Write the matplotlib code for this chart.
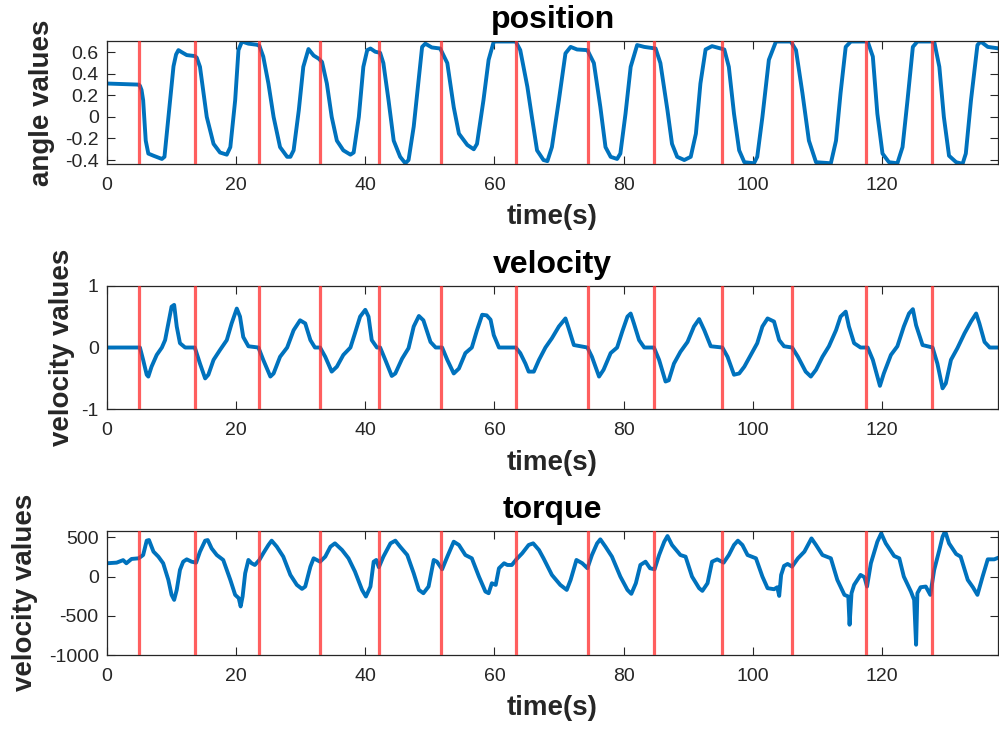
import matplotlib
matplotlib.use("Agg")
import matplotlib.pyplot as plt

plt.rcParams['font.family'] = ['Liberation Sans', 'DejaVu Sans']

# event markers (s)
events = [5.0, 13.67, 23.58, 33.02, 42.1, 51.75, 63.27, 74.46, 84.67, 95.25,
          106.15, 117.5, 127.75]

# joint angle
pos_t = [0, 4.9, 5.1, 5.35, 5.6, 6.0, 6.4, 7.2, 8.5, 8.9, 9.25, 10.3, 10.7, 11.06, 11.6, 12.35,
         13.6, 13.9, 14.4, 15.45, 16.5, 17.5, 18.55, 19.1, 19.85, 20.36, 20.9,
         21.9, 23.2, 23.6, 24.2, 25.0, 25.8, 26.8, 27.9, 28.4, 28.9, 29.7, 30.4,
         31.2, 32.0, 32.8, 33.3, 34.05, 34.8, 35.6, 36.6, 37.7, 38.2, 39.0, 39.7,
         40.3, 40.8, 41.55, 42.3, 42.8, 43.6, 44.4, 45.4, 46.2, 46.7, 47.5, 48.3,
         48.8, 49.3, 50.3, 51.6, 52.7, 53.7, 54.5, 55.8, 56.8, 57.3, 58.3, 59.1,
         59.9, 60.4, 63.3, 64.0, 65.1, 65.8, 66.6, 67.6, 68.2, 68.9, 69.98, 71.0,
         71.8, 72.8, 74.4, 75.4, 76.4, 77.2, 78.0, 79.0, 79.5, 80.3, 81.1, 82.1,
         83.2, 84.96, 85.7, 86.8, 87.5, 88.3, 89.4, 90.4, 91.2, 91.9, 92.7, 93.7,
         95.6, 96.3, 97.1, 97.9, 98.7, 100.2, 100.7, 101.5, 102.5, 103.6, 105.9,
         106.7, 107.7, 108.7, 109.8, 112.1, 112.9, 113.6, 114.4, 115.2, 117.8,
         118.6, 119.3, 120.1, 121.1, 122.4, 123.2, 123.97, 124.8, 125.5, 128.1,
         128.9, 129.6, 130.4, 131.5, 132.5, 133.0, 133.8, 134.8, 135.3, 136.4, 138.2]
pos_v = [0.31, 0.30, 0.29, 0.25, 0.155, -0.22, -0.34, -0.36, -0.39, -0.37, -0.16, 0.47,
         0.58, 0.62, 0.60, 0.574, 0.565, 0.55, 0.465, 0.0, -0.25, -0.33, -0.35, -0.28,
         0.155, 0.62, 0.70, 0.68, 0.67, 0.66, 0.56, 0.31, 0.0, -0.28, -0.37, -0.37,
         -0.31, 0.06, 0.465, 0.63, 0.57, 0.54, 0.51, 0.31, 0.0, -0.22, -0.31, -0.35,
         -0.33, 0.0, 0.465, 0.62, 0.635, 0.605, 0.595, 0.50, 0.155, -0.22, -0.37,
         -0.43, -0.40, -0.09, 0.37, 0.65, 0.68, 0.645, 0.635, 0.50, 0.09, -0.155,
         -0.26, -0.30, -0.25, 0.155, 0.53, 0.70, 0.70, 0.70, 0.62, 0.28, 0.0, -0.31,
         -0.40, -0.41, -0.28, 0.155, 0.59, 0.65, 0.626, 0.62, 0.50, 0.093, -0.28,
         -0.37, -0.39, -0.34, 0.03, 0.465, 0.667, 0.65, 0.635, 0.50, 0.06, -0.25,
         -0.37, -0.40, -0.37, -0.155, 0.31, 0.626, 0.657, 0.626, 0.465, 0.03, -0.31,
         -0.42, -0.43, -0.37, 0.0, 0.53, 0.70, 0.70, 0.62, 0.22, -0.22, -0.42, -0.43,
         -0.22, 0.22, 0.65, 0.70, 0.70, 0.56, 0.03, -0.34, -0.42, -0.43, -0.28,
         0.155, 0.65, 0.70, 0.70, 0.465, 0.0, -0.36, -0.42, -0.435, -0.34, 0.155,
         0.667, 0.70, 0.65, 0.635]

# angular velocity
vel_t = [0, 5.1, 5.6, 6.15, 6.4, 6.9, 7.7, 8.5, 9.0, 9.5, 10.0, 10.4, 10.8, 11.3,
         12.1, 13.6, 14.4, 15.2, 15.7, 16.5, 17.5, 18.55, 19.3, 20.1, 20.6, 21.1,
         21.9, 23.45, 24.2, 25.3, 25.8, 26.8, 27.9, 28.9, 29.9, 30.7, 31.5, 32.2,
         33.0, 33.8, 34.8, 35.6, 36.6, 37.7, 38.4, 39.2, 40.0, 40.5, 41.0, 41.8,
         42.3, 43.1, 44.1, 44.65, 45.7, 46.7, 47.5, 48.3, 49.0, 50.1, 50.9, 51.9,
         52.7, 53.7, 54.5, 55.5, 56.5, 57.3, 58.1, 58.8, 59.4, 59.9, 60.7, 63.3,
         64.0, 64.8, 65.3, 66.1, 66.9, 67.9, 68.9, 69.98, 71.0, 71.5, 72.3, 74.4,
         75.1, 76.2, 76.9, 78.0, 79.0, 79.8, 80.6, 81.1, 81.6, 82.4, 83.2, 84.7,
         85.5, 86.5, 87.0, 87.8, 88.8, 89.9, 90.9, 91.7, 92.5, 93.5, 95.3, 96.1,
         97.1, 97.9, 98.7, 99.7, 100.7, 101.5, 102.3, 103.3, 104.1, 104.85, 106.1,
         107.0, 108.2, 109.0, 109.8, 110.8, 111.8, 112.9, 113.6, 114.4, 114.9,
         115.7, 116.7, 117.8, 118.6, 119.3, 119.7, 120.3, 121.4, 122.4, 123.4,
         124.2, 124.8, 125.3, 126.3, 127.85, 128.6, 129.4, 129.9, 130.7, 131.7,
         132.8, 133.8, 134.6, 135.1, 135.9, 136.7, 138.2]
vel_v = [0.0, 0.0, -0.2, -0.44, -0.47, -0.31, -0.12, 0.0, 0.12, 0.39, 0.66, 0.69,
         0.34, 0.07, 0.0, 0.0, -0.26, -0.5, -0.44, -0.2, -0.04, 0.12, 0.39, 0.63,
         0.5, 0.17, 0.02, 0.0, -0.2, -0.47, -0.42, -0.15, 0.0, 0.28, 0.44, 0.39,
         0.12, 0.0, 0.0, -0.15, -0.39, -0.31, -0.12, 0.0, 0.23, 0.5, 0.61, 0.5,
         0.12, 0.0, 0.0, -0.2, -0.46, -0.42, -0.18, -0.01, 0.34, 0.51, 0.44, 0.09,
         0.0, 0.0, -0.2, -0.42, -0.34, -0.09, 0.0, 0.28, 0.53, 0.52, 0.45, 0.2, 0.0,
         0.0, -0.09, -0.26, -0.39, -0.39, -0.2, 0.0, 0.15, 0.34, 0.47, 0.31, 0.04,
         0.0, -0.15, -0.47, -0.36, -0.09, 0.0, 0.26, 0.5, 0.55, 0.39, 0.12, 0.0, 0.0,
         -0.2, -0.55, -0.53, -0.26, -0.07, 0.09, 0.34, 0.46, 0.28, 0.02, 0.0, -0.15,
         -0.44, -0.42, -0.31, -0.12, 0.07, 0.34, 0.47, 0.42, 0.12, 0.02, 0.0, -0.15,
         -0.39, -0.47, -0.36, -0.15, 0.02, 0.28, 0.5, 0.58, 0.34, 0.07, 0.0, 0.0,
         -0.2, -0.47, -0.62, -0.42, -0.12, 0.02, 0.34, 0.55, 0.62, 0.36, 0.04, 0.0,
         -0.26, -0.66, -0.58, -0.2, -0.01, 0.23, 0.42, 0.55, 0.39, 0.09, 0.0, 0.0]

# joint torque
trq_t = [0, 1.5, 2.5, 3.0, 3.8, 4.9, 5.6, 6.15, 6.5, 7.2, 7.96, 8.7, 9.5, 10.0,
         10.4, 10.8, 11.3, 11.8, 12.35, 13.1, 13.8, 14.4, 15.2, 15.6, 16.2, 17.0,
         18.0, 19.1, 19.85, 20.4, 20.7, 21.0, 21.4, 21.9, 22.4, 22.9, 23.6, 24.2,
         25.0, 25.5, 26.3, 27.3, 28.4, 29.4, 30.2, 30.7, 31.5, 32.0, 32.5, 33.0,
         33.8, 34.6, 35.3, 36.4, 37.4, 38.4, 39.5, 40.1, 40.8, 41.3, 41.7, 42.1,
         42.8, 43.9, 44.65, 45.4, 46.5, 47.5, 48.3, 49.0, 49.8, 50.6, 51.1, 51.9,
         52.7, 53.7, 54.5, 55.5, 56.5, 57.6, 58.6, 59.1, 59.6, 60.2, 60.7, 61.5,
         62.0, 62.7, 63.4, 64.3, 65.3, 66.0, 66.9, 67.6, 68.9, 70.2, 71.2, 71.8,
         72.7, 73.6, 74.4, 75.1, 75.9, 76.4, 77.2, 78.2, 79.5, 80.6, 81.2, 81.9,
         82.6, 83.4, 84.1, 84.8, 85.5, 86.3, 86.8, 87.5, 88.8, 89.6, 90.6, 91.7,
         92.2, 93.0, 93.7, 94.5, 95.5, 96.3, 97.1, 97.7, 98.4, 99.2, 100.5, 101.5,
         102.3, 103.3, 103.8, 104.1, 104.4, 104.85, 105.4, 106.1, 107.0, 108.0,
         109.1, 109.8, 110.8, 112.1, 113.1, 114.2, 114.8, 115.0, 115.3, 115.7,
         116.2, 116.7, 117.3, 117.7, 118.3, 119.3, 119.9, 120.6, 121.9, 122.7,
         123.4, 124.5, 125.0, 125.3, 125.5, 126.0, 126.8, 127.5, 128.1, 128.9,
         129.4, 129.8, 130.4, 131.5, 132.2, 133.3, 134.1, 134.8, 135.6, 136.4,
         137.4, 138.2]
trq_v = [170, 178, 210, 170, 225, 233, 275, 458, 466, 318, 254, 170, -42, -233,
         -297, -170, 85, 190, 220, 190, 178, 318, 458, 466, 360, 275, 212, -42,
         -233, -275, -381, -254, 42, 212, 170, 148, 212, 297, 403, 458, 381, 254,
         21, -106, -157, -127, 127, 233, 212, 190, 254, 381, 424, 339, 233, 64,
         -170, -254, -127, 190, 212, 119, 254, 424, 458, 381, 275, 42, -170, -212,
         -127, 212, 190, 93, 254, 445, 403, 275, 233, 0, -191, -212, -85, -106,
         106, 170, 148, 148, 220, 297, 403, 424, 339, 233, 21, -106, -170, -42,
         212, 170, 106, 275, 424, 475, 381, 254, 0, -170, -220, -85, 148, 190, 106,
         93, 275, 445, 517, 403, 275, 254, 0, -148, -182, -85, 190, 220, 178, 275,
         403, 458, 403, 275, 233, 0, -148, -161, -136, -246, 21, 136, 161, 127,
         233, 318, 487, 403, 275, 233, -42, -233, -254, -614, -212, -106, -42, 21,
         -8, -127, 170, 445, 551, 424, 263, 233, 0, -191, -297, -869, -212, -136,
         -127, -233, 85, 339, 508, 580, 424, 288, 254, -42, -136, -233, 0, 220,
         220, 246]

blue = '#0072BD'
dark = '#262626'

fig = plt.figure(figsize=(9.99, 7.29), dpi=100)
ax1 = fig.add_axes([0.1071, 0.775, 0.892, 0.1688])
ax2 = fig.add_axes([0.1071, 0.4385, 0.892, 0.1696])
ax3 = fig.add_axes([0.1071, 0.1015, 0.892, 0.1705])

panels = [
    (ax1, pos_t, pos_v, 'position', 'angle values', (-0.437, 0.705),
     [-0.4, -0.2, 0, 0.2, 0.4, 0.6], ['-0.4', '-0.2', '0', '0.2', '0.4', '0.6'], -0.058),
    (ax2, vel_t, vel_v, 'velocity', 'velocity values', (-1, 1),
     [-1, 0, 1], ['-1', '0', '1'], -0.036),
    (ax3, trq_t, trq_v, 'torque', 'velocity values', (-1000, 585),
     [-1000, -500, 0, 500], ['-1000', '-500', '0', '500'], -0.077),
]

for ax, t, v, title, ylab, ylim, yt, ytl, lx in panels:
    ax.plot(t, v, color=blue, lw=2.8, solid_joinstyle='round', zorder=2)
    for e in events:
        ax.axvline(e, color='#ff2a2a', alpha=0.75, lw=2.3, zorder=3)
    ax.set_xlim(0, 138)
    ax.set_ylim(*ylim)
    ax.set_xticks([0, 20, 40, 60, 80, 100, 120])
    ax.set_yticks(yt)
    ax.set_yticklabels(ytl)
    ax.tick_params(direction='in', top=True, right=True, length=6, width=0.8,
                   labelsize=14, colors=dark, labelcolor=dark)
    ax.tick_params(axis='x', pad=9)
    ax.tick_params(axis='y', pad=6)
    for s in ax.spines.values():
        s.set_color(dark)
        s.set_linewidth(0.9)
    ax.set_title(title, fontsize=23, fontweight='bold', pad=9)
    ax.set_xlabel('time(s)', fontsize=20, fontweight='bold', color=dark)
    ax.xaxis.set_label_coords(0.5, -0.325)
    ax.set_ylabel(ylab, fontsize=20, fontweight='bold', color=dark)
    ax.yaxis.set_label_coords(lx, 0.5)

fig.savefig('out.png', dpi=100)
